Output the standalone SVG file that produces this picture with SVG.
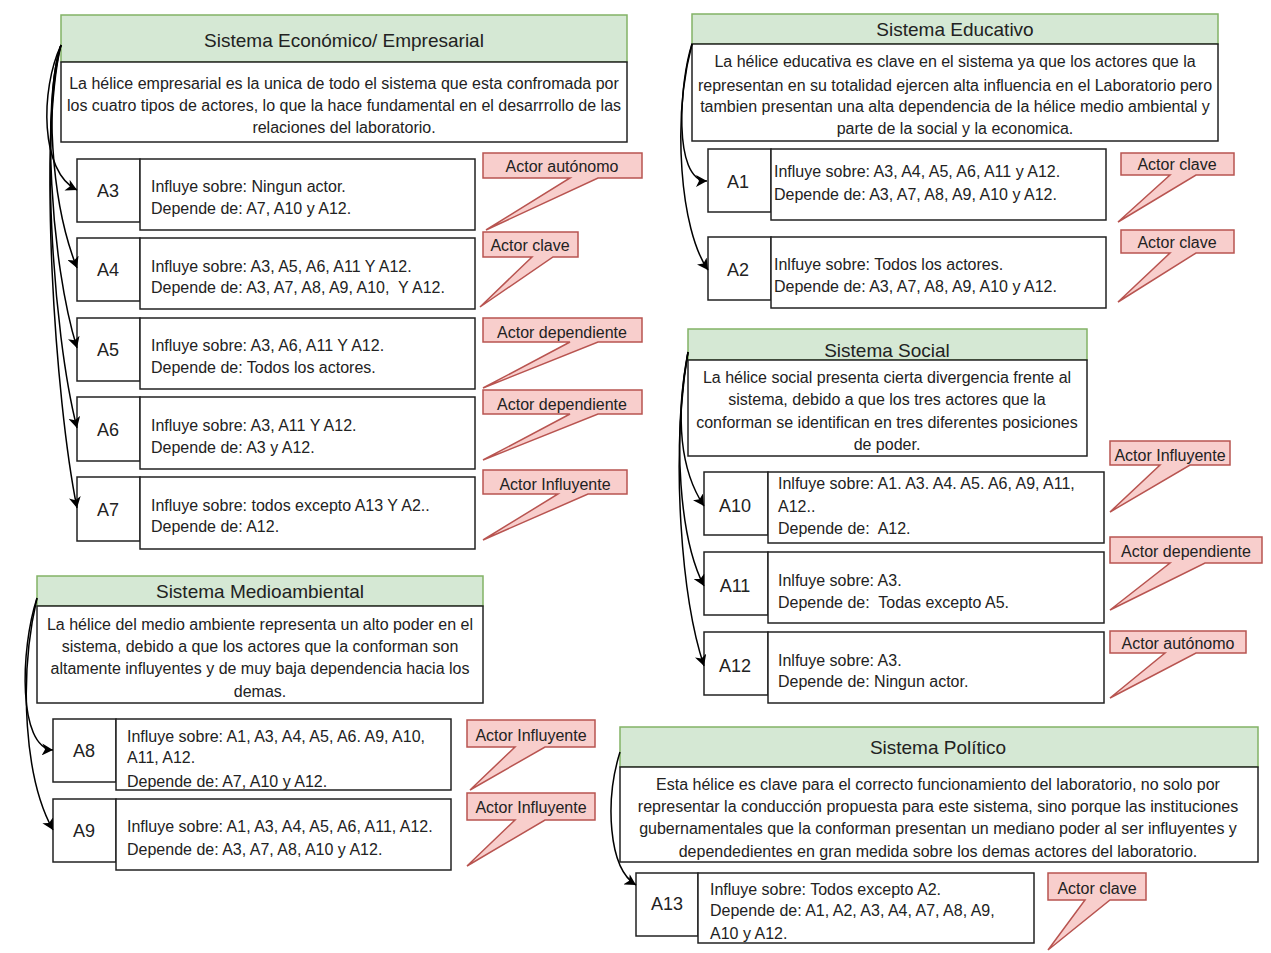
<svg xmlns="http://www.w3.org/2000/svg" width="1271" height="953" viewBox="0 0 1271 953">
<style>
text{font-family:"Liberation Sans",Arial,sans-serif;fill:#222}
.hd{fill:#d5e8d4;stroke:#82b366;stroke-width:1.5}
.ht{font-size:19px;text-anchor:middle}
.ds{fill:#fff;stroke:#222;stroke-width:1.5}
.dt{font-size:16px;text-anchor:middle}
.bx{fill:#fff;stroke:#222;stroke-width:1.5}
.lb{font-size:18px;text-anchor:middle}
.tx{font-size:16px}
.co{fill:#f8cecc;stroke:#b85450;stroke-width:1.5}
.ct{font-size:16px;text-anchor:middle}
.cn{fill:none;stroke:#000;stroke-width:1.5}
</style>
<defs>
<marker id="ar" markerUnits="userSpaceOnUse" markerWidth="14" markerHeight="12" refX="11" refY="6" orient="auto">
<path d="M0,0 L11,6 L0,12 L3,6 Z" fill="#000"/>
</marker>
</defs>

<g id="sistema-economico">
<rect class="hd" x="61" y="15" width="566" height="47"/>
<text class="ht" x="344" y="47">Sistema Económico/ Empresarial</text>
<rect class="ds" x="61" y="62" width="566" height="80"/>
<text class="dt" x="344" y="89">La hélice empresarial es la unica de todo el sistema que esta confromada por</text>
<text class="dt" x="344" y="111">los cuatro tipos de actores, lo que la hace fundamental en el desarrrollo de las</text>
<text class="dt" x="344" y="133">relaciones del laboratorio.</text>
</g>

<g id="A3">
<rect class="bx" x="77" y="159" width="63" height="63"/>
<rect class="bx" x="140" y="159" width="335" height="71"/>
<text class="lb" x="108" y="197">A3</text>
<text class="tx" x="151" y="192">Influye sobre: Ningun actor.</text>
<text class="tx" x="151" y="214">Depende de: A7, A10 y A12.</text>
</g>
<g id="A4">
<rect class="bx" x="77" y="238" width="63" height="63"/>
<rect class="bx" x="140" y="238" width="335" height="71"/>
<text class="lb" x="108" y="276">A4</text>
<text class="tx" x="151" y="272">Influye sobre: A3, A5, A6, A11 Y A12.</text>
<text class="tx" x="151" y="293" xml:space="preserve">Depende de: A3, A7, A8, A9, A10,  Y A12.</text>
</g>
<g id="A5">
<rect class="bx" x="77" y="318" width="63" height="63"/>
<rect class="bx" x="140" y="318" width="335" height="71"/>
<text class="lb" x="108" y="356">A5</text>
<text class="tx" x="151" y="351">Influye sobre: A3, A6, A11 Y A12.</text>
<text class="tx" x="151" y="373">Depende de: Todos los actores.</text>
</g>
<g id="A6">
<rect class="bx" x="77" y="397" width="63" height="64"/>
<rect class="bx" x="140" y="397" width="335" height="72"/>
<text class="lb" x="108" y="436">A6</text>
<text class="tx" x="151" y="431">Influye sobre: A3, A11 Y A12.</text>
<text class="tx" x="151" y="453">Depende de: A3 y A12.</text>
</g>
<g id="A7">
<rect class="bx" x="77" y="477" width="63" height="64"/>
<rect class="bx" x="140" y="477" width="335" height="72"/>
<text class="lb" x="108" y="516">A7</text>
<text class="tx" x="151" y="511">Influye sobre: todos excepto A13 Y A2..</text>
<text class="tx" x="151" y="532">Depende de: A12.</text>
</g>

<g id="sistema-educativo">
<rect class="hd" x="692" y="14" width="526" height="30"/>
<text class="ht" x="955" y="36">Sistema Educativo</text>
<rect class="ds" x="692" y="44" width="526" height="97"/>
<text class="dt" x="955" y="67">La hélice educativa es clave en el sistema ya que los actores que la</text>
<text class="dt" x="955" y="91">representan en su totalidad ejercen alta influencia en el Laboratorio pero</text>
<text class="dt" x="955" y="112">tambien presentan una alta dependencia de la hélice medio ambiental y</text>
<text class="dt" x="955" y="134">parte de la social y la economica.</text>
</g>
<g id="A1">
<rect class="bx" x="708" y="149" width="63" height="63"/>
<rect class="bx" x="771" y="149" width="335" height="71"/>
<text class="lb" x="738" y="188">A1</text>
<text class="tx" x="774" y="177">Influye sobre: A3, A4, A5, A6, A11 y A12.</text>
<text class="tx" x="774" y="200">Depende de: A3, A7, A8, A9, A10 y A12.</text>
</g>
<g id="A2">
<rect class="bx" x="708" y="237" width="63" height="63"/>
<rect class="bx" x="771" y="237" width="335" height="71"/>
<text class="lb" x="738" y="276">A2</text>
<text class="tx" x="774" y="270">Inlfuye sobre: Todos los actores.</text>
<text class="tx" x="774" y="292">Depende de: A3, A7, A8, A9, A10 y A12.</text>
</g>

<g id="sistema-social">
<rect class="hd" x="688" y="329" width="399" height="31"/>
<text class="ht" x="887" y="357">Sistema Social</text>
<rect class="ds" x="688" y="360" width="399" height="96"/>
<text class="dt" x="887" y="383">La hélice social presenta cierta divergencia frente al</text>
<text class="dt" x="887" y="405">sistema, debido a que los tres actores que la</text>
<text class="dt" x="887" y="428">conforman se identifican en tres diferentes posiciones</text>
<text class="dt" x="887" y="450">de poder.</text>
</g>
<g id="A10">
<rect class="bx" x="704" y="472" width="64" height="63"/>
<rect class="bx" x="768" y="472" width="336" height="71"/>
<text class="lb" x="735" y="512">A10</text>
<text class="tx" x="778" y="489">Inlfuye sobre: A1. A3. A4. A5. A6, A9, A11,</text>
<text class="tx" x="778" y="512">A12..</text>
<text class="tx" x="778" y="534" xml:space="preserve">Depende de:  A12.</text>
</g>
<g id="A11">
<rect class="bx" x="704" y="552" width="64" height="63"/>
<rect class="bx" x="768" y="552" width="336" height="71"/>
<text class="lb" x="735" y="592">A11</text>
<text class="tx" x="778" y="586">Inlfuye sobre: A3.</text>
<text class="tx" x="778" y="608" xml:space="preserve">Depende de:  Todas excepto A5.</text>
</g>
<g id="A12">
<rect class="bx" x="704" y="632" width="64" height="63"/>
<rect class="bx" x="768" y="632" width="336" height="71"/>
<text class="lb" x="735" y="672">A12</text>
<text class="tx" x="778" y="666">Inlfuye sobre: A3.</text>
<text class="tx" x="778" y="687">Depende de: Ningun actor.</text>
</g>

<g id="sistema-medioambiental">
<rect class="hd" x="37" y="576" width="446" height="30"/>
<text class="ht" x="260" y="598">Sistema Medioambiental</text>
<rect class="ds" x="37" y="606" width="446" height="97"/>
<text class="dt" x="260" y="630">La hélice del medio ambiente representa un alto poder en el</text>
<text class="dt" x="260" y="652">sistema, debido a que los actores que la conforman son</text>
<text class="dt" x="260" y="674">altamente influyentes y de muy baja dependencia hacia los</text>
<text class="dt" x="260" y="697">demas.</text>
</g>
<g id="A8">
<rect class="bx" x="53" y="719" width="63" height="63"/>
<rect class="bx" x="116" y="719" width="335" height="71"/>
<text class="lb" x="84" y="757">A8</text>
<text class="tx" x="127" y="742">Influye sobre: A1, A3, A4, A5, A6. A9, A10,</text>
<text class="tx" x="127" y="763">A11, A12.</text>
<text class="tx" x="127" y="787">Depende de: A7, A10 y A12.</text>
</g>
<g id="A9">
<rect class="bx" x="53" y="799" width="63" height="63"/>
<rect class="bx" x="116" y="799" width="335" height="71"/>
<text class="lb" x="84" y="837">A9</text>
<text class="tx" x="127" y="832">Influye sobre: A1, A3, A4, A5, A6, A11, A12.</text>
<text class="tx" x="127" y="855">Depende de: A3, A7, A8, A10 y A12.</text>
</g>

<g id="sistema-politico">
<rect class="hd" x="620" y="727" width="638" height="40"/>
<text class="ht" x="938" y="754">Sistema Político</text>
<rect class="ds" x="620" y="767" width="638" height="95"/>
<text class="dt" x="938" y="790">Esta hélice es clave para el correcto funcionamiento del laboratorio, no solo por</text>
<text class="dt" x="938" y="812">representar la conducción propuesta para este sistema, sino porque las instituciones</text>
<text class="dt" x="938" y="834">gubernamentales que la conforman presentan un mediano poder al ser influyentes y</text>
<text class="dt" x="938" y="857">dependedientes en gran medida sobre los demas actores del laboratorio.</text>
</g>
<g id="A13">
<rect class="bx" x="636" y="873" width="62" height="63"/>
<rect class="bx" x="698" y="873" width="336" height="70"/>
<text class="lb" x="667" y="910">A13</text>
<text class="tx" x="710" y="895">Influye sobre: Todos excepto A2.</text>
<text class="tx" x="710" y="916">Depende de: A1, A2, A3, A4, A7, A8, A9,</text>
<text class="tx" x="710" y="939">A10 y A12.</text>
</g>

<g id="callouts">
<g id="callout-A3"><path class="co" d="M483,153 H642 V178 H598 L486,230 L570,178 H483 Z"/><text class="ct" x="562" y="172">Actor autónomo</text></g>
<g id="callout-A4"><path class="co" d="M483,232 H578 V257 H553 L480,307 L532,257 H483 Z"/><text class="ct" x="530" y="251">Actor clave</text></g>
<g id="callout-A5"><path class="co" d="M483,318 H642 V342 H598 L483,388 L570,342 H483 Z"/><text class="ct" x="562" y="338">Actor dependiente</text></g>
<g id="callout-A6"><path class="co" d="M483,390 H642 V414 H598 L483,460 L570,414 H483 Z"/><text class="ct" x="562" y="410">Actor dependiente</text></g>
<g id="callout-A7"><path class="co" d="M483,470 H627 V494 H588 L483,540 L558,494 H483 Z"/><text class="ct" x="555" y="490">Actor Influyente</text></g>
<g id="callout-A1"><path class="co" d="M1121,153 H1234 V175 H1196 L1118,222 L1170,175 H1121 Z"/><text class="ct" x="1177" y="170">Actor clave</text></g>
<g id="callout-A2"><path class="co" d="M1121,230 H1234 V253 H1196 L1118,302 L1170,253 H1121 Z"/><text class="ct" x="1177" y="248">Actor clave</text></g>
<g id="callout-A10"><path class="co" d="M1110,441 H1230 V465 H1190 L1110,512 L1160,465 H1110 Z"/><text class="ct" x="1170" y="461">Actor Influyente</text></g>
<g id="callout-A11"><path class="co" d="M1110,537 H1262 V563 H1205 L1110,610 L1170,563 H1110 Z"/><text class="ct" x="1186" y="557">Actor dependiente</text></g>
<g id="callout-A12"><path class="co" d="M1110,631 H1246 V653 H1196 L1110,698 L1165,653 H1110 Z"/><text class="ct" x="1178" y="649">Actor autónomo</text></g>
<g id="callout-A8"><path class="co" d="M467,720 H595 V747 H545 L470,790 L515,747 H467 Z"/><text class="ct" x="531" y="741">Actor Influyente</text></g>
<g id="callout-A9"><path class="co" d="M467,793 H595 V820 H545 L467,866 L515,820 H467 Z"/><text class="ct" x="531" y="813">Actor Influyente</text></g>
<g id="callout-A13"><path class="co" d="M1048,873 H1146 V900 H1110 L1048,950 L1085,900 H1048 Z"/><text class="ct" x="1097" y="894">Actor clave</text></g>
</g>

<g id="connectors">
<path class="cn" marker-end="url(#ar)" d="M61,45 C40,90 40,172 77,190"/>
<path class="cn" marker-end="url(#ar)" d="M61,45 C45,90 50,200 77,268"/>
<path class="cn" marker-end="url(#ar)" d="M61,45 C42,100 50,260 77,348"/>
<path class="cn" marker-end="url(#ar)" d="M61,45 C40,120 52,330 77,428"/>
<path class="cn" marker-end="url(#ar)" d="M61,45 C38,140 55,400 77,508"/>
<path class="cn" marker-end="url(#ar)" d="M692,44 C680,80 672,181 707,181"/>
<path class="cn" marker-end="url(#ar)" d="M692,44 C672,120 680,230 708,270"/>
<path class="cn" marker-end="url(#ar)" d="M688,352 C675,420 680,470 704,506"/>
<path class="cn" marker-end="url(#ar)" d="M688,352 C672,440 680,540 704,586"/>
<path class="cn" marker-end="url(#ar)" d="M688,352 C670,460 682,600 704,666"/>
<path class="cn" marker-end="url(#ar)" d="M37,598 C20,650 18,748 53,750"/>
<path class="cn" marker-end="url(#ar)" d="M37,598 C18,680 25,780 53,830"/>
<path class="cn" marker-end="url(#ar)" d="M620,752 C605,800 608,868 636,885"/>
</g>
</svg>
